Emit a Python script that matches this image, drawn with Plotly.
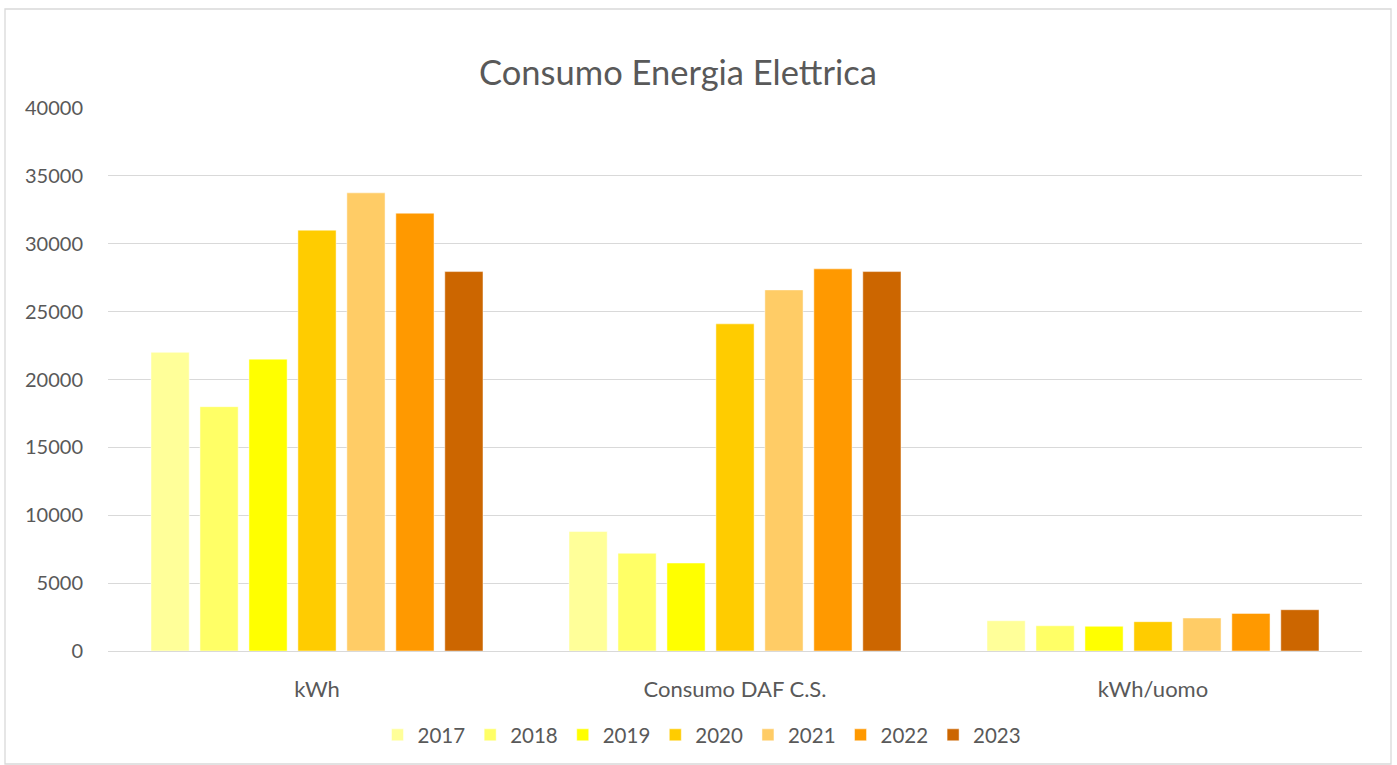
import plotly.graph_objects as go

categories = ["kWh", "Consumo DAF C.S.", "kWh/uomo"]
years = ["2017", "2018", "2019", "2020", "2021", "2022", "2023"]
values_2017 = [22000, 8800, 2230]
values_2018 = [18000, 7200, 1860]
values_2019 = [21500, 6480, 1820]
values_2020 = [31000, 24100, 2160]
values_2021 = [33750, 26600, 2430]
values_2022 = [32250, 28150, 2770]
values_2023 = [27950, 27950, 3040]
series = [values_2017, values_2018, values_2019, values_2020, values_2021, values_2022, values_2023]
colors = ["#FFFF99", "#FFFF66", "#FFFF00", "#FFCC00", "#FFCC66", "#FF9900", "#CC6600"]

FONT = "Lato, 'Open Sans', sans-serif"
TXT = "#595959"

fig = go.Figure()
for yr, vals, col in zip(years, series, colors):
    fig.add_trace(go.Bar(
        name=yr, x=categories, y=vals,
        marker=dict(color=col, line=dict(color="rgba(255,255,255,0.6)", width=0.8)),
    ))

W, H = 1397, 765
ml, mr, mt, mb = 108, 35, 108, 114
pw = W - ml - mr
ph = H - mt - mb

fig.update_layout(
    width=W, height=H,
    margin=dict(l=ml, r=mr, t=mt, b=mb),
    paper_bgcolor="white", plot_bgcolor="white",
    barmode="group", bargap=0.18, bargroupgap=0.22,
    font=dict(family=FONT, color=TXT, size=20),
    title=dict(text="Consumo Energia Elettrica", x=678 / W, xanchor="center",
               xref="container", y=1 - 73 / H, yref="container", yanchor="middle",
               font=dict(size=34.5, color=TXT, family=FONT)),
    legend=dict(orientation="h", xref="container", yref="container",
                x=702 / W, xanchor="center", y=1 - 735 / H, yanchor="middle",
                font=dict(size=20.5, color=TXT), itemwidth=30, traceorder="normal"),
    showlegend=True,
)
fig.update_yaxes(range=[0, 40000], dtick=5000, tickformat="d", showgrid=True, gridcolor="#D9D9D9",
                 gridwidth=1.3, zeroline=False, showline=False, ticks="",
                 tickfont=dict(size=20, color=TXT), ticklabelstandoff=24)
fig.update_xaxes(showline=True, linecolor="#D9D9D9", linewidth=1.3, ticks="",
                 tickfont=dict(size=22, color=TXT), ticklabelstandoff=18)

# outer chart border
fig.add_shape(type="rect", xref="paper", yref="paper",
              x0=(5 - ml) / pw, x1=(1391 - ml) / pw,
              y0=(H - mb - 764) / ph, y1=(H - mb - 9) / ph,
              line=dict(color="#D9D9D9", width=1.3), fillcolor="rgba(0,0,0,0)", layer="below")

fig.write_html("out.html", config={"displayModeBar": False},
               post_script="document.body.style.margin='0';document.body.style.overflow='hidden';")
